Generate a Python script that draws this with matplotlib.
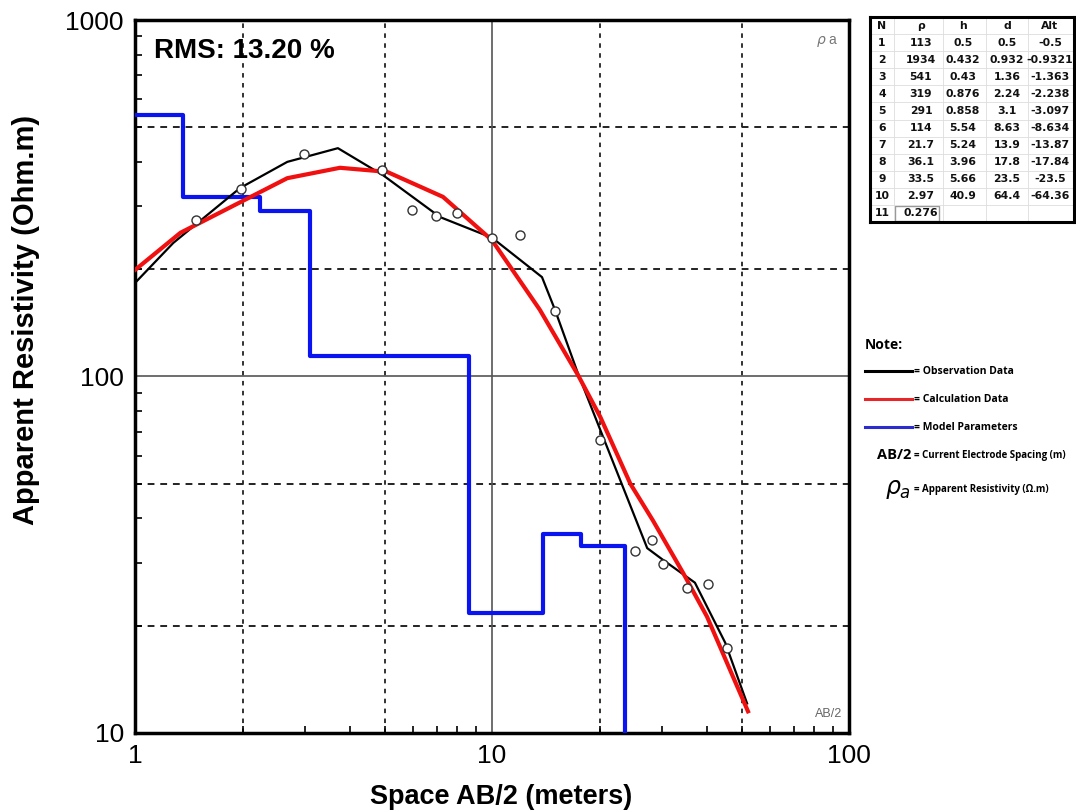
import numpy as np
import matplotlib
matplotlib.use("Agg")
import matplotlib.pyplot as plt
from matplotlib.lines import Line2D

plt.rcParams['font.family'] = ['Liberation Sans', 'DejaVu Sans']

# observed apparent resistivity (circles)
obs_ab2 = [1.48, 1.98, 2.97, 4.92, 5.97, 6.97, 7.98, 10.0, 12.0, 15.0, 20.1,
           25.2, 28.1, 30.1, 35.2, 40.3, 45.5]
obs_rho = [275, 336, 421, 380, 293, 282, 287, 245, 250, 153, 66.4,
           32.4, 34.8, 29.8, 25.5, 26.2, 17.3]

# observation curve (black)
obs_line_x = [1.0, 1.28, 1.97, 2.67, 3.70, 4.95, 7.15, 10.0, 13.8, 15.0, 17.4,
              20.1, 27.2, 30.1, 37.0, 45.0, 51.8]
obs_line_y = [183, 237, 338, 400, 437, 367, 280, 245, 190, 154, 102,
              70.8, 33.0, 30.6, 26.4, 17.9, 12.1]

# calculated curve (red)
calc_x = [1.0, 1.34, 2.67, 3.75, 5.08, 7.29, 10.0, 13.6, 17.4, 20.1, 24.4,
          28.2, 34.3, 40.0, 52.1]
calc_y = [199, 253, 360, 385, 375, 319, 241, 154, 101, 77, 50,
          39.5, 28.1, 21.2, 11.5]

# layer model table
layer_n = [1, 2, 3, 4, 5, 6, 7, 8, 9, 10, 11]
layer_rho = ['113', '1934', '541', '319', '291', '114', '21.7', '36.1', '33.5', '2.97', '0.276']
layer_h = ['0.5', '0.432', '0.43', '0.876', '0.858', '5.54', '5.24', '3.96', '5.66', '40.9']
layer_d = ['0.5', '0.932', '1.36', '2.24', '3.1', '8.63', '13.9', '17.8', '23.5', '64.4']
layer_alt = ['-0.5', '-0.9321', '-1.363', '-2.238', '-3.097', '-8.634', '-13.87',
             '-17.84', '-23.5', '-64.36']

fig = plt.figure(figsize=(10.76, 8.1), dpi=100)
ax = fig.add_axes([0.1255, 0.0951, 0.6636, 0.8802])

# model step line from table
rho_vals = [float(v) for v in layer_rho]
d_vals = [float(v) for v in layer_d]
step_x = [0.3]
step_y = [rho_vals[0]]
for i, d in enumerate(d_vals):
    step_x += [d, d]
    step_y += [rho_vals[i], rho_vals[i + 1]]
step_x.append(200)
step_y.append(rho_vals[-1])
ax.plot(step_x, step_y, color='#0a14f0', lw=3, zorder=3)

ax.plot(obs_line_x, obs_line_y, color='black', lw=1.6, zorder=4)
ax.plot(calc_x, calc_y, color='#f01010', lw=3, zorder=5)
ax.plot(obs_ab2, obs_rho, 'o', mfc='white', mec='#333333', ms=6.5, mew=1.0, zorder=6)

ax.set_xscale('log')
ax.set_yscale('log')
ax.set_xlim(1, 100)
ax.set_ylim(10, 1000)

for v in [2, 5, 20, 50]:
    ax.axvline(v, color='#222222', lw=1.3, ls=(0, (2.5, 3)), zorder=1)
for v in [20, 50, 200, 500]:
    ax.axhline(v, color='#222222', lw=1.4, ls=(0, (3.5, 3)), zorder=1)
ax.axvline(10, color='#555555', lw=1.2, zorder=1)
ax.axhline(100, color='#555555', lw=1.2, zorder=1)

ax.set_xticks([1, 10, 100])
ax.set_xticklabels(['1', '10', '100'])
ax.set_yticks([10, 100, 1000])
ax.set_yticklabels(['10', '100', '1000'])
ax.tick_params(which='major', length=0, labelsize=19, pad=8)
ax.tick_params(which='minor', direction='in', length=5, width=1.2, labelleft=False, labelbottom=False)
for s in ax.spines.values():
    s.set_linewidth(2.5)

ax.set_xlabel('Space AB/2 (meters)', fontsize=19.5, fontweight='bold')
ax.xaxis.set_label_coords(0.513, -0.072)
ax.set_ylabel('Apparent Resistivity (Ohm.m)', fontsize=21, fontweight='bold')
ax.yaxis.set_label_coords(-0.133, 0.58)

ax.text(0.027, 0.975, 'RMS: 13.20 %', transform=ax.transAxes, fontsize=20,
        fontweight='bold', va='top', ha='left')
ax.text(0.985, 0.98, r'$\rho$ a', transform=ax.transAxes, fontsize=10,
        color='#777777', va='top', ha='right')
ax.text(0.99, 0.018, 'AB/2', transform=ax.transAxes, fontsize=9,
        color='#666666', va='bottom', ha='right')

# layer table
rows = [['N', 'ρ', 'h', 'd', 'Alt']]
for i in range(len(layer_n)):
    if i < len(layer_h):
        rows.append([str(layer_n[i]), layer_rho[i], layer_h[i], layer_d[i], layer_alt[i]])
    else:
        rows.append([str(layer_n[i]), layer_rho[i], '', '', ''])
tax = fig.add_axes([870 / 1076, 1 - 222 / 810, 204 / 1076, 205 / 810])
tax.set_xlim(0, 204)
tax.set_ylim(205, 0)
tax.set_xticks([])
tax.set_yticks([])
for s in tax.spines.values():
    s.set_linewidth(2.2)
col_x = [12, 51, 93, 137, 180]
row_h = 205 / 12
for r, row in enumerate(rows):
    yc = row_h * (r + 0.5)
    if r > 0:
        tax.axhline(row_h * r, color='#dddddd', lw=0.6)
    for c, txt in enumerate(row):
        tax.text(col_x[c], yc, txt, fontsize=7.8, fontweight='bold', ha='center',
                 va='center', family=['DejaVu Sans'], color='#111111')
for xv in [24, 73, 116, 158]:
    tax.axvline(xv, color='#dddddd', lw=0.6)
tax.add_patch(plt.Rectangle((25, row_h * 11 + 1), 44, row_h - 2, fill=False,
                            ec='#999999', lw=1))

# note legend
fig.text(865 / 1076, 1 - 345 / 810, 'Note:', fontsize=10, fontweight='bold',
         family=['Open Sans', 'DejaVu Sans'], va='center')
leg_items = [('black', '= Observation Data', 371), ('#e8262a', '= Calculation Data', 399),
             ('#2b2bd0', '= Model Parameters', 427)]
for col, lab, yy in leg_items:
    fig.add_artist(Line2D([865 / 1076, 912 / 1076], [1 - yy / 810] * 2, color=col, lw=2.2))
    fig.text(914 / 1076, 1 - yy / 810, lab, fontsize=7.5, fontweight='bold',
             family=['Open Sans', 'DejaVu Sans'], va='center')
fig.text(911 / 1076, 1 - 455 / 810, 'AB/2', fontsize=10.5, fontweight='bold',
         family=['Open Sans', 'DejaVu Sans'], va='center', ha='right')
fig.text(914 / 1076, 1 - 455 / 810, '= Current Electrode Spacing (m)', fontsize=7,
         fontweight='bold', family=['Open Sans', 'DejaVu Sans'], va='center')
fig.text(911 / 1076, 1 - 489 / 810, r'$\rho_a$', fontsize=17, va='center', ha='right')
fig.text(914 / 1076, 1 - 489 / 810, '= Apparent Resistivity (Ω.m)', fontsize=7,
         fontweight='bold', family=['Open Sans', 'DejaVu Sans'], va='center')

fig.savefig('out.png', dpi=100)
